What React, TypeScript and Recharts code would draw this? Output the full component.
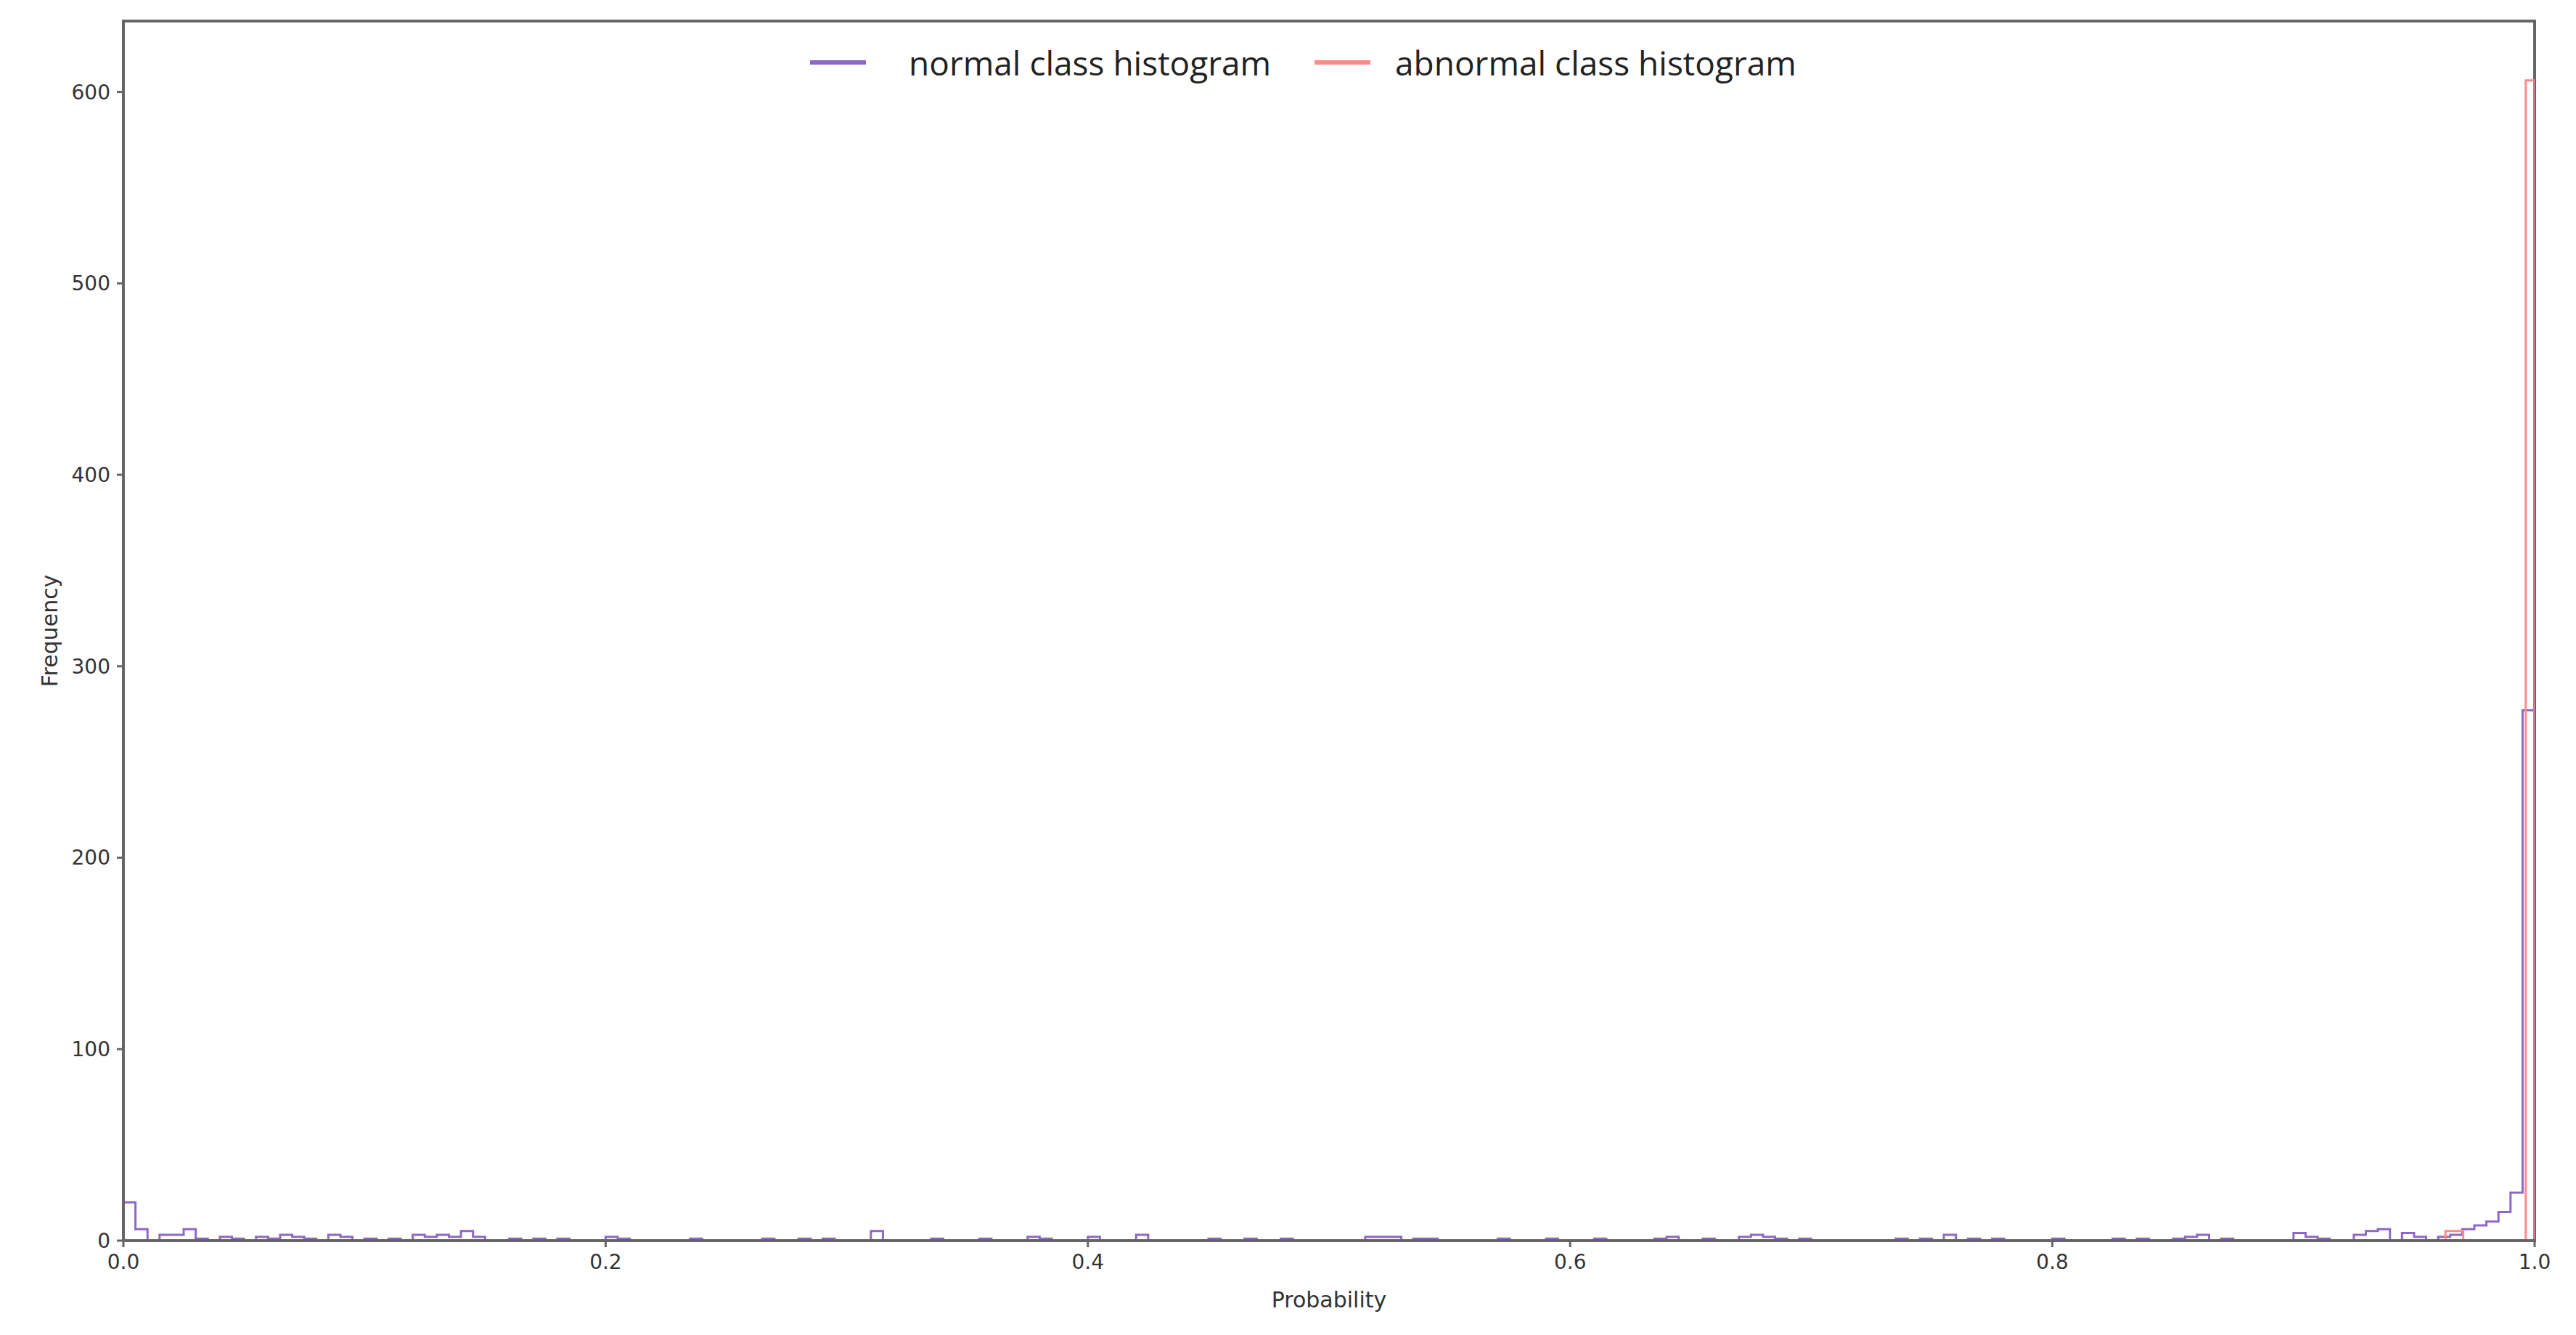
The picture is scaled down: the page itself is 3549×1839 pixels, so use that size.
import { ComposedChart, Line, XAxis, YAxis, ReferenceArea, Legend } from "recharts"

// normal class: 200 bins over [0, 1], only the non-empty bins are listed as [bin, count]
const NORMAL_BIN_COUNT = 200
const NORMAL_NONZERO: [number, number][] = [
    [0, 20], [1, 6], [3, 3], [4, 3], [5, 6], [6, 1], [8, 2], [9, 1], [11, 2], [12, 1],
    [13, 3], [14, 2], [15, 1], [17, 3], [18, 2], [20, 1], [22, 1], [24, 3], [25, 2], [26, 3],
    [27, 2], [28, 5], [29, 2], [32, 1], [34, 1], [36, 1], [40, 2], [41, 1], [47, 1], [53, 1],
    [56, 1], [58, 1], [62, 5], [67, 1], [71, 1], [75, 2], [76, 1], [80, 2], [84, 3], [90, 1],
    [93, 1], [96, 1], [103, 2], [104, 2], [105, 2], [107, 1], [108, 1], [114, 1], [118, 1], [122, 1],
    [127, 1], [128, 2], [131, 1], [134, 2], [135, 3], [136, 2], [137, 1], [139, 1], [147, 1], [149, 1],
    [151, 3], [153, 1], [155, 1], [160, 1], [165, 1], [167, 1], [170, 1], [171, 2], [172, 3], [174, 1],
    [180, 4], [181, 2], [182, 1], [185, 3], [186, 5], [187, 6], [189, 4], [190, 2], [192, 2], [193, 3],
    [194, 6], [195, 8], [196, 10], [197, 15], [198, 25], [199, 277],
]

// abnormal class: 10 bins between its min and max probability
const ABNORMAL_MIN = 0.963
const ABNORMAL_MAX = 1.0
const ABNORMAL_COUNTS = [5, 5, 0, 0, 0, 0, 0, 0, 0, 606]

const X_TICKS = [0, 0.2, 0.4, 0.6, 0.8, 1.0]
const Y_TICKS = [0, 100, 200, 300, 400, 500, 600]
const Y_MAX = 637

const NORMAL_NAME = "normal class histogram"
const ABNORMAL_NAME = "abnormal class histogram"
const LEGEND_ORDER = [NORMAL_NAME, ABNORMAL_NAME]

const PURPLE = "#8d68c4"
const RED = "#ff8a8a"

type Pt = { x: number; y: number }

function stepPoints(start: number, width: number, counts: number[]): Pt[] {
    const pts: Pt[] = [{ x: start, y: 0 }]
    counts.forEach((c, i) => {
        pts.push({ x: start + i * width, y: c })
        pts.push({ x: start + (i + 1) * width, y: c })
    })
    pts.push({ x: start + counts.length * width, y: 0 })
    return pts
}

const normalCounts = new Array(NORMAL_BIN_COUNT).fill(0)
NORMAL_NONZERO.forEach(([b, c]) => { normalCounts[b] = c })
const normalData = stepPoints(0, 1 / NORMAL_BIN_COUNT, normalCounts)
const abnormalData = stepPoints(
    ABNORMAL_MIN,
    (ABNORMAL_MAX - ABNORMAL_MIN) / ABNORMAL_COUNTS.length,
    ABNORMAL_COUNTS,
)

const tickStyle = { fontFamily: "DejaVu Sans", fontSize: 28, fill: "#333" }

// legend item positions (px from the chart's left edge)
const legendSlots = [
    { line: 1116, text: 1252 },
    { line: 1811, text: 1922 },
]

function renderLegend(props: any) {
    const items = [...(props.payload ?? [])].sort(
        (a: any, b: any) => LEGEND_ORDER.indexOf(a.value) - LEGEND_ORDER.indexOf(b.value),
    )
    return (
        <div style={{ position: "relative", height: 60, fontFamily: "Open Sans", fontSize: 46, color: "#222" }}>
            {items.map((it: any, i: number) => (
                <div key={i}>
                    <div style={{ position: "absolute", left: legendSlots[i].line, top: 27, width: 77, height: 6, background: it.color }} />
                    <span style={{ position: "absolute", left: legendSlots[i].text, top: 0, lineHeight: "60px", whiteSpace: "nowrap" }}>{it.value}</span>
                </div>
            ))}
        </div>
    )
}

export default function App() {
    return (
        <div style={{ position: "absolute", left: 0, top: 0, background: "#fff" }}>
            <ComposedChart
                width={3549}
                height={1839}
                margin={{ top: 29, right: 57, left: 0, bottom: 0 }}
            >
                <XAxis
                    type="number"
                    dataKey="x"
                    domain={[0, 1]}
                    ticks={X_TICKS}
                    tickFormatter={(v: number) => v.toFixed(1)}
                    height={130}
                    tickSize={9}
                    tickMargin={10}
                    tick={tickStyle}
                    stroke="#666"
                    axisLine={{ stroke: "#666", strokeWidth: 4 }}
                    tickLine={{ stroke: "#666", strokeWidth: 3 }}
                    allowDataOverflow
                    label={{ value: "Probability", position: "insideBottom", offset: 38, style: { ...tickStyle, fontSize: 30 } }}
                />
                <YAxis
                    type="number"
                    dataKey="y"
                    domain={[0, Y_MAX]}
                    ticks={Y_TICKS}
                    width={170}
                    tickSize={9}
                    tickMargin={9}
                    tick={tickStyle}
                    stroke="#666"
                    axisLine={{ stroke: "#666", strokeWidth: 4 }}
                    tickLine={{ stroke: "#666", strokeWidth: 3 }}
                    allowDataOverflow
                    label={{ value: "Frequency", angle: -90, position: "insideLeft", offset: 68, style: { ...tickStyle, fontSize: 30, textAnchor: "middle" } }}
                />
                <ReferenceArea x1={0} x2={1} y1={0} y2={Y_MAX} fill="none" stroke="#666" strokeWidth={4} />
                <Legend
                    content={renderLegend}
                    layout="horizontal"
                    verticalAlign="middle"
                    wrapperStyle={{ position: "absolute", top: 56, left: 0, width: 3549 }}
                />
                <Line
                    data={normalData}
                    dataKey="y"
                    name={NORMAL_NAME}
                    type="linear"
                    stroke={PURPLE}
                    strokeWidth={3}
                    dot={false}
                    activeDot={false}
                    isAnimationActive={false}
                />
                <Line
                    data={abnormalData}
                    dataKey="y"
                    name={ABNORMAL_NAME}
                    type="linear"
                    stroke={RED}
                    strokeWidth={3}
                    dot={false}
                    activeDot={false}
                    isAnimationActive={false}
                />
            </ComposedChart>
        </div>
    )
}
